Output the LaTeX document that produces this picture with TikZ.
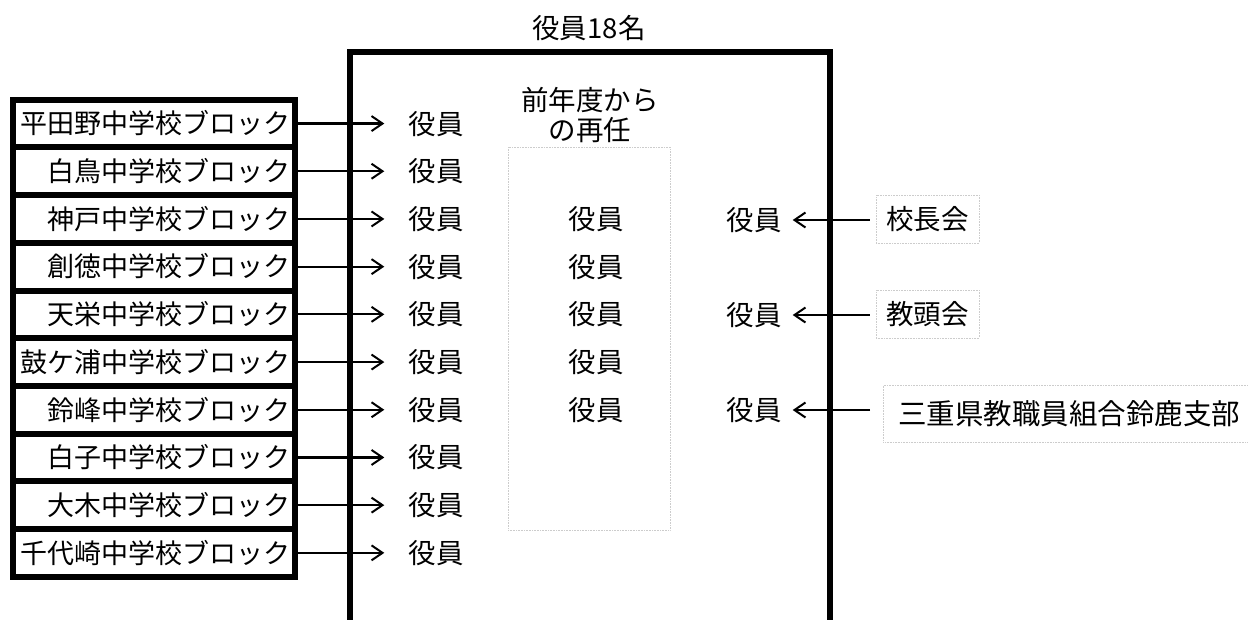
\documentclass[tikz,border=0pt]{standalone}
\usepackage{fontspec}
\setmainfont{Noto Sans CJK JP}
\usetikzlibrary{arrows.meta}
\begin{document}
\begin{tikzpicture}[x=1pt,y=-1pt,
  txt/.style={font=\fontsize{27.5}{30}\selectfont, inner sep=0pt, text height=23pt, text depth=2pt},
  btxt/.style={font=\fontsize{27}{30}\selectfont, inner sep=0pt, text height=22.5pt, text depth=2pt},
  ltxt/.style={font=\fontsize{28.5}{30}\selectfont, inner sep=0pt, text height=23.8pt, text depth=2pt},
  blk/.style={draw, line width=6pt, minimum width=281.5pt, minimum height=47.7pt, inner sep=0pt},
  faint/.style={draw=black!20, densely dotted, line width=0.6pt},
  arr/.style={line width=2.2pt, -{Straight Barb[length=11pt,width=15pt,line width=2pt]}},
  frame/.style={line width=6pt, line join=miter}]
\useasboundingbox (0,0) rectangle (1248,619);
% title
\node[txt] (title) at (589,28) {役員18名};
% left blocks
\foreach \nm [count=\i from 0] in {平田野中学校ブロック,白鳥中学校ブロック,神戸中学校ブロック,創徳中学校ブロック,天栄中学校ブロック,鼓ケ浦中学校ブロック,鈴峰中学校ブロック,白子中学校ブロック,大木中学校ブロック,千代崎中学校ブロック}{
  \pgfmathsetmacro{\yy}{123.55+47.7*\i}
  \node[blk] (b\i) at (153.75,\yy) {};
  \node[btxt, anchor=east] (t\i) at ([xshift=-7pt]b\i.east) {\nm};
  \node[txt] (r\i) at (436,\yy) {役員};
  \draw[arr] (b\i.east) -- ([xshift=-24pt]r\i.west);
}
% middle column
\node[faint, minimum width=162pt, minimum height=383pt] (prev) at (589,338.5) {};
\node[align=center, inner sep=0pt, font=\fontsize{27.5}{30}\selectfont] (head) at (590,115) {前年度から\\の再任};
\foreach \i in {2,...,6}{
  \pgfmathsetmacro{\yy}{123.55+47.7*\i}
  \node[txt] (m\i) at (596,\yy) {役員};
}
% right side
\node[txt] (y1) at (754,220) {役員};
\node[txt] (y2) at (754,315) {役員};
\node[txt] (y3) at (754,410) {役員};
\node[txt, faint, minimum width=103pt, minimum height=48pt] (s1) at (927.5,219) {校長会};
\node[txt, faint, minimum width=103pt, minimum height=48pt] (s2) at (927.5,314) {教頭会};
\node[ltxt, faint, anchor=west, inner xsep=15pt, minimum height=57pt] (s3) at (883,413.5) {三重県教職員組合鈴鹿支部};
\draw[arr, shorten <=6pt] (y1.east -| s1.west) -- ([xshift=11pt]y1.east);
\draw[arr, shorten <=6pt] (y2.east -| s2.west) -- ([xshift=11pt]y2.east);
\draw[arr, shorten <=13pt] (y3.east -| s3.west) -- ([xshift=11pt]y3.east);
% big frame (open at the bottom)
\draw[frame] (349.7,630) -- (349.7,52) -- (829.7,52) -- (829.7,630);
\end{tikzpicture}
\end{document}
